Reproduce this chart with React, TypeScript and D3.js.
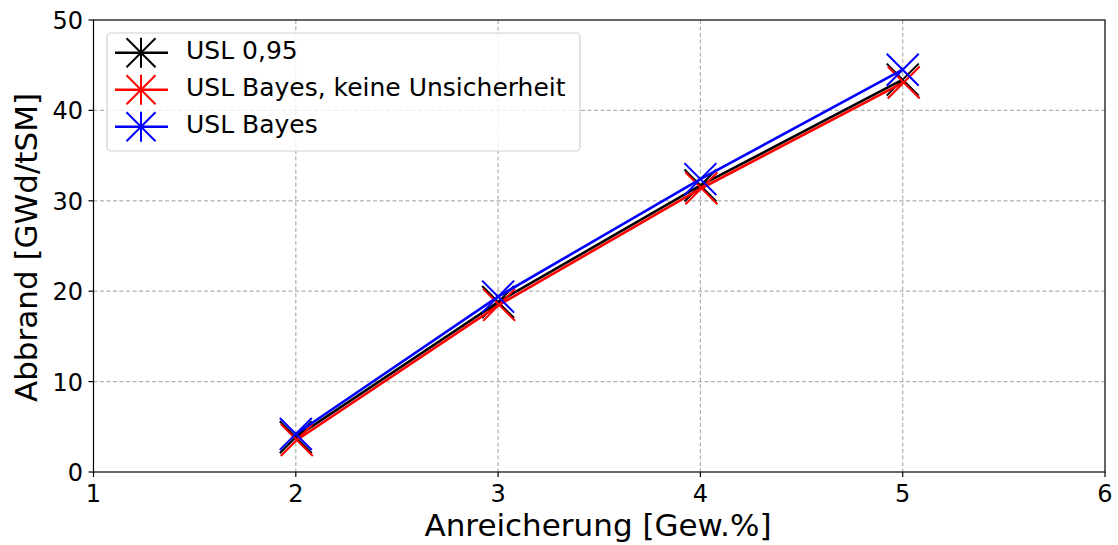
import React from "react";
import * as d3 from "d3";

const xValues = [2, 3, 4, 5];
const uslBlack = [3.85, 18.8, 31.7, 43.4];
const uslRed = [3.65, 18.6, 31.5, 43.2];
const uslBlue = [4.2, 19.4, 32.4, 44.5];
const xTicks = [1, 2, 3, 4, 5, 6];
const yTicks = [0, 10, 20, 30, 40, 50];
const seriesNames = ["USL 0,95", "USL Bayes, keine Unsicherheit", "USL Bayes"];

const W = 1118, H = 545;
const M = { l: 93.5, r: 1105, t: 20, b: 472 };
const FONT = "DejaVu Sans, sans-serif";

export default function App() {
  const x = d3.scaleLinear().domain([1, 6]).range([M.l, M.r]);
  const y = d3.scaleLinear().domain([0, 50]).range([M.b, M.t]);
  const line = d3.line<number>().x((_, i) => x(xValues[i])).y((d) => y(d));
  const series = [
    { name: seriesNames[0], vals: uslBlack, color: "#000000", dx: 0, dy: 0 },
    { name: seriesNames[1], vals: uslRed, color: "#ff0000", dx: 1, dy: 1 },
    { name: seriesNames[2], vals: uslBlue, color: "#0000ff", dx: 0, dy: 0 },
  ];
  const ms = 16;
  return (
    <svg width={W} height={H} style={{ position: "absolute", left: 0, top: 0 }} fontFamily={FONT}>
      <rect x={0} y={0} width={W} height={H} fill="#fff" />
      {xTicks.slice(1, -1).map((t) => (
        <line key={"gx" + t} x1={x(t)} x2={x(t)} y1={M.t} y2={M.b} stroke="#b0b0b0" strokeWidth={1.2} strokeDasharray="4,2.5" />
      ))}
      {yTicks.slice(1, -1).map((t) => (
        <line key={"gy" + t} x1={M.l} x2={M.r} y1={y(t)} y2={y(t)} stroke="#b0b0b0" strokeWidth={1.2} strokeDasharray="4,2.5" />
      ))}
      {series.map((s) => (
        <g key={s.name} transform={`translate(${s.dx},${s.dy})`}>
          <path d={line(s.vals) || ""} fill="none" stroke={s.color} strokeWidth={2.6} />
          {s.vals.map((v, i) => {
            const cx = x(xValues[i]), cy = y(v);
            return (
              <g key={i} stroke={s.color} strokeWidth={2}>
                <line x1={cx - ms} y1={cy - ms} x2={cx + ms} y2={cy + ms} />
                <line x1={cx - ms} y1={cy + ms} x2={cx + ms} y2={cy - ms} />
              </g>
            );
          })}
        </g>
      ))}
      <rect x={M.l} y={M.t} width={M.r - M.l} height={M.b - M.t} fill="none" stroke="#000" strokeWidth={1.2} />
      {xTicks.map((t) => (
        <g key={"xt" + t}>
          <line x1={x(t)} x2={x(t)} y1={M.b} y2={M.b + 5} stroke="#000" strokeWidth={1.2} />
          <text x={x(t)} y={502} textAnchor="middle" fontSize={24}>{t}</text>
        </g>
      ))}
      {yTicks.map((t) => (
        <g key={"yt" + t}>
          <line x1={M.l - 5} x2={M.l} y1={y(t)} y2={y(t)} stroke="#000" strokeWidth={1.2} />
          <text x={83} y={y(t) + 9} textAnchor="end" fontSize={24}>{t}</text>
        </g>
      ))}
      <text x={598} y={536} textAnchor="middle" fontSize={31}>Anreicherung [Gew.%]</text>
      <text transform={`translate(37,247.5) rotate(-90)`} textAnchor="middle" fontSize={31}>Abbrand [GWd/tSM]</text>
      <g>
        <rect x={107} y={33} width={473} height={118} rx={4} fill="#fff" fillOpacity={0.8} stroke="#d0d0d0" strokeWidth={1.2} />
        {series.map((s, i) => {
          const cy = 52.7 + i * 37;
          const cx = 141;
          return (
            <g key={"lg" + i}>
              <line x1={115} x2={168} y1={cy} y2={cy} stroke={s.color} strokeWidth={2.6} />
              <g stroke={s.color} strokeWidth={2}>
                <line x1={cx - 14.5} y1={cy - 14.5} x2={cx + 14.5} y2={cy + 14.5} />
                <line x1={cx - 14.5} y1={cy + 14.5} x2={cx + 14.5} y2={cy - 14.5} />
                <line x1={cx} y1={cy - 15} x2={cx} y2={cy + 15} />
              </g>
              <text x={186} y={cy + 6.5} fontSize={25}>{s.name}</text>
            </g>
          );
        })}
      </g>
    </svg>
  );
}
